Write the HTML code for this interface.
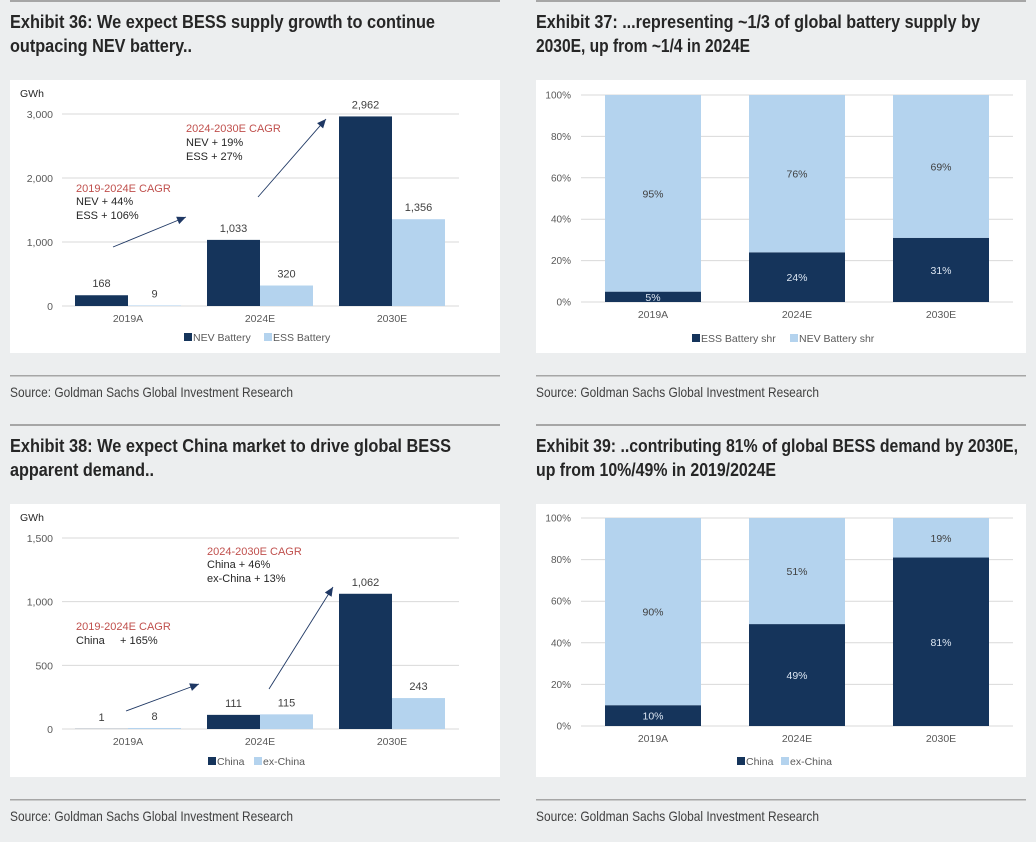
<!DOCTYPE html>
<html><head><meta charset="utf-8"><style>
html,body{margin:0;padding:0;background:#eceeef;}
svg{display:block;font-family:"Liberation Sans",sans-serif;}
</style></head><body>
<svg id="s" width="1036" height="842" viewBox="0 0 1036 842" xmlns="http://www.w3.org/2000/svg">
<rect x="0" y="0" width="1036" height="842" fill="#eceeef"/>
</svg>
<script>
const NS='http://www.w3.org/2000/svg';
const svg=document.getElementById('s');
function el(tag,attrs,parent,text){const e=document.createElementNS(NS,tag);for(const k in attrs)e.setAttribute(k,attrs[k]);if(text!==undefined)e.textContent=text;(parent||svg).appendChild(e);return e;}
const NAVY='#15345b',LIGHT='#b4d3ee',GRID='#d9d9d9',TXT='#595959',RED='#c0504d';

// ---- data ----
const categories=['2019A','2024E','2030E'];
const nevBattery=[168,1033,2962];
const essBattery=[9,320,1356];
const supplyTicks=[0,1000,2000,3000];
const essShare=[5,24,31];
const nevShare=[95,76,69];
const pctTicks=[0,20,40,60,80,100];
const chinaDemand=[1,111,1062];
const exChinaDemand=[8,115,243];
const demandTicks=[0,500,1000,1500];
const chinaShare=[10,49,81];
const exChinaShare=[90,51,19];

function fmt(v){return v.toLocaleString('en-US');}

function frame(x0,y0,t1,w1,t2,w2,name){
  const g=el('g',{});
  
  
  el('rect',{x:x0,y:y0,width:490,height:2,fill:'#a6a6a6'},g);
  const a=el('text',{x:x0,y:y0+28,'font-size':18,'font-weight':'bold',fill:'#262626',textLength:w1,lengthAdjust:'spacingAndGlyphs'},g,t1);
  
  
  el('text',{x:x0,y:y0+52,'font-size':18,'font-weight':'bold',fill:'#262626',textLength:w2,lengthAdjust:'spacingAndGlyphs'},g,t2);
  el('rect',{x:x0,y:y0+80,width:490,height:273,fill:'#fff'},g);
  el('rect',{x:x0,y:y0+375,width:490,height:1.5,fill:'#a6a6a6'},g);
  const s=el('text',{x:x0,y:y0+397,'font-size':14,fill:'#404040',textLength:283,lengthAdjust:'spacingAndGlyphs'},g,'Source: Goldman Sachs Global Investment Research');
  
  
  return g;
}
function legend(g,y,items){
  items.forEach(it=>{
    const li=el('g',{},g);
    
    
    el('rect',{x:it.x,y:y-8,width:8,height:8,fill:it.c},li);
    el('text',{x:it.x+9,y:y,'font-size':10.5,fill:TXT},li,it.t);
  });
}
function cat(g,xs,y){categories.forEach((c,i)=>{const t=el('text',{x:xs[i],y:y,'font-size':10.5,fill:TXT,'text-anchor':'middle'},g,c);});}
function arrow(g,x1,y1,x2,y2){
  el('line',{x1:x1,y1:y1,x2:x2,y2:y2,stroke:'#1f3864','stroke-width':0.9},g);
  const a=Math.atan2(y2-y1,x2-x1),L=9,W=4;
  const bx=x2-L*Math.cos(a),by=y2-L*Math.sin(a);
  el('polygon',{points:`${x2},${y2} ${bx-W*Math.sin(a)},${by+W*Math.cos(a)} ${bx+W*Math.sin(a)},${by-W*Math.cos(a)}`,fill:'#1f3864'},g);
}

function groupChart(g,y0,max,ticks,s1,s2,yTop,yZero){
  const ys=v=>yZero-(v/max)*(yZero-yTop);
  ticks.forEach(t=>{
    el('line',{x1:62,x2:459,y1:ys(t),y2:ys(t),stroke:GRID,'stroke-width':1},g);
    const l=el('text',{x:53,y:ys(t)+4,'font-size':10.5,fill:TXT,'text-anchor':'end'},g,fmt(t));
    
    
  });
  const cx=[128,260,392],bw=53;
  categories.forEach((c,i)=>{
    [[s1,NAVY,-bw],[s2,LIGHT,0]].forEach(([s,col,off],k)=>{
      const v=s[i];
      const r=el('rect',{x:cx[i]+off,y:ys(v),width:bw,height:yZero-ys(v),fill:col},g);
      
      
      el('text',{x:cx[i]+off+bw/2,y:ys(v)-8,'font-size':11,fill:'#404040','text-anchor':'middle'},g,fmt(v));
    });
  });
  cat(g,cx,yZero+16);
}
function stackChart(g,yTop,yZero,s1,s2){
  const ys=v=>yZero-(v/100)*(yZero-yTop);
  pctTicks.forEach(t=>{
    el('line',{x1:581,x2:1013,y1:ys(t),y2:ys(t),stroke:GRID,'stroke-width':1},g);
    const l=el('text',{x:571,y:ys(t)+3.5,'font-size':10,fill:TXT,'text-anchor':'end'},g,t+'%');
    
    
  });
  const cx=[653,797,941],bw=96;
  categories.forEach((c,i)=>{
    const a=s1[i],b=s2[i];
    const r1=el('rect',{x:cx[i]-bw/2,y:ys(a),width:bw,height:yZero-ys(a),fill:NAVY},g);
    
    
    const r2=el('rect',{x:cx[i]-bw/2,y:ys(a+b),width:bw,height:ys(a)-ys(a+b),fill:LIGHT},g);
    
    
    el('text',{x:cx[i],y:(ys(a)+yZero)/2+4,'font-size':10.5,fill:'#dce6f2','text-anchor':'middle'},g,a+'%');
    el('text',{x:cx[i],y:(ys(a+b)+ys(a))/2+4,'font-size':10.5,fill:'#404040','text-anchor':'middle'},g,b+'%');
  });
  cat(g,cx,yZero+16);
}

// Exhibit 36
let g=frame(10,0,'Exhibit 36: We expect BESS supply growth to continue',425,'outpacing NEV battery..',182,'exhibit-36');
el('text',{x:20,y:97,'font-size':10.5,fill:'#262626'},g,'GWh');
groupChart(g,0,3000,supplyTicks,nevBattery,essBattery,114,306);
el('text',{x:186,y:132,'font-size':11,fill:RED},g,'2024-2030E CAGR');
el('text',{x:186,y:146,'font-size':11,fill:'#262626'},g,'NEV + 19%');
el('text',{x:186,y:160,'font-size':11,fill:'#262626'},g,'ESS + 27%');
el('text',{x:76,y:192,'font-size':11,fill:RED},g,'2019-2024E CAGR');
el('text',{x:76,y:205,'font-size':11,fill:'#262626'},g,'NEV + 44%');
el('text',{x:76,y:219,'font-size':11,fill:'#262626'},g,'ESS + 106%');
arrow(g,113,247,186,217);arrow(g,258,197,326,119);
legend(g,341,[{x:184,c:NAVY,t:'NEV Battery'},{x:264,c:LIGHT,t:'ESS Battery'}]);

// Exhibit 37
g=frame(536,0,'Exhibit 37: ...representing ~1/3 of global battery supply by',444,'2030E, up from ~1/4 in 2024E',214,'exhibit-37');
stackChart(g,95,302,essShare,nevShare);
legend(g,342,[{x:692,c:NAVY,t:'ESS Battery shr'},{x:790,c:LIGHT,t:'NEV Battery shr'}]);

// Exhibit 38
g=frame(10,424,'Exhibit 38: We expect China market to drive global BESS',441,'apparent demand..',144,'exhibit-38');
el('text',{x:20,y:521,'font-size':10.5,fill:'#262626'},g,'GWh');
groupChart(g,0,1500,demandTicks,chinaDemand,exChinaDemand,538,729);
el('text',{x:207,y:555,'font-size':11,fill:RED},g,'2024-2030E CAGR');
el('text',{x:207,y:568,'font-size':11,fill:'#262626'},g,'China + 46%');
el('text',{x:207,y:582,'font-size':11,fill:'#262626'},g,'ex-China + 13%');
el('text',{x:76,y:630,'font-size':11,fill:RED},g,'2019-2024E CAGR');
el('text',{x:76,y:644,'font-size':11,fill:'#262626'},g,'China');
el('text',{x:120,y:644,'font-size':11,fill:'#262626'},g,'+ 165%');
arrow(g,126,711,199,684);arrow(g,269,689,333,587);
legend(g,765,[{x:208,c:NAVY,t:'China'},{x:254,c:LIGHT,t:'ex-China'}]);

// Exhibit 39
g=frame(536,424,'Exhibit 39: ..contributing 81% of global BESS demand by 2030E,',482,'up from 10%/49% in 2019/2024E',240,'exhibit-39');
stackChart(g,518,726,chinaShare,exChinaShare);
legend(g,765,[{x:737,c:NAVY,t:'China'},{x:781,c:LIGHT,t:'ex-China'}]);
</script>
</body></html>
